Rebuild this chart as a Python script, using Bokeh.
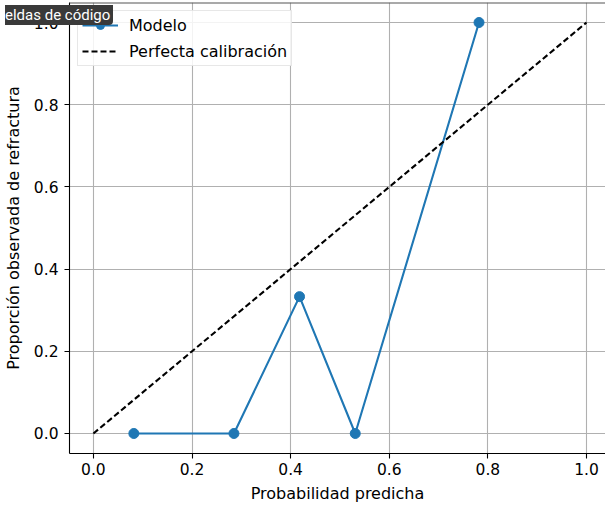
from bokeh.plotting import figure
from bokeh.models import Range1d, Span, FixedTicker, CustomJSTickFormatter, Div
from bokeh.layouts import column
from bokeh.embed import file_html
from bokeh.resources import INLINE

# Data
prob_pred = [0.082, 0.285, 0.418, 0.531, 0.782]
prob_obs = [0.0, 0.0, 0.333, 0.0, 1.0]
diag_x = [0.0, 1.0]
diag_y = [0.0, 1.0]
ticks = [0.0, 0.2, 0.4, 0.6, 0.8, 1.0]

FONT = "DejaVu Sans"

p = figure(width=605, height=506, output_backend="svg", toolbar_location=None,
           x_range=Range1d(-0.0485, 1.0385), y_range=Range1d(-0.0487, 1.0487),
           min_border_left=67, min_border_right=0, min_border_top=2,
           min_border_bottom=53)
p.outline_line_color = None
p.background_fill_color = "white"
p.border_fill_color = "white"

for g in (p.xgrid, p.ygrid):
    g.grid_line_color = "#b0b0b0"
    g.grid_line_width = 1.1
    g.ticker = FixedTicker(ticks=ticks)

fmt = CustomJSTickFormatter(code="return tick.toFixed(1);")
for ax in (p.xaxis, p.yaxis):
    ax.ticker = FixedTicker(ticks=ticks)
    ax.formatter = fmt
    ax.axis_line_color = "black"
    ax.axis_line_width = 1.1
    ax.major_tick_line_color = "black"
    ax.major_tick_line_width = 1.1
    ax.major_tick_out = 5
    ax.major_tick_in = 0
    ax.minor_tick_line_color = None
    ax.major_label_text_font = FONT
    ax.major_label_text_font_size = "15.5px"
    ax.major_label_text_color = "black"
    ax.axis_label_text_font = FONT
    ax.axis_label_text_font_size = "16px"
    ax.axis_label_text_font_style = "normal"
    ax.axis_label_text_color = "black"

p.xaxis.major_label_standoff = 4
p.yaxis.major_label_standoff = 6
p.xaxis.axis_label = "Probabilidad predicha"
p.yaxis.axis_label = "Proporción observada de refractura"
p.xaxis.axis_label_standoff = 6
p.yaxis.axis_label_standoff = 8

# top spine (partially visible)
p.add_layout(Span(location=1.0487, dimension="width", line_color="#555555",
                  line_width=2))

# model curve
p.line(prob_pred, prob_obs, line_color="#1f77b4", line_width=2.1,
       legend_label="Modelo")
p.scatter(prob_pred, prob_obs, size=10, fill_color="#1f77b4",
          line_color="#1f77b4", legend_label="Modelo")
# perfect calibration
p.line(diag_x, diag_y, line_color="black", line_width=2.1, line_dash="6 3",
       legend_label="Perfecta calibración")

lg = p.legend[0]
lg.location = "top_left"
lg.margin = 8
lg.padding = 4
lg.spacing = 6
lg.glyph_width = 36
lg.glyph_height = 20
lg.label_height = 20
lg.label_standoff = 11
lg.label_text_font = FONT
lg.label_text_font_size = "16px"
lg.label_text_color = "black"
lg.border_line_color = "#d0d0d0"
lg.border_line_width = 1
lg.background_fill_alpha = 0.85

# tooltip overlay that appears in the screenshot
tip = Div(text="eldas de código", width=108, height=20,
          styles={"position": "absolute", "top": "0px", "left": "0px",
                  "z-index": "10", "background-color": "#3a3a3a",
                  "color": "white", "font-family": "Roboto",
                  "font-size": "15px", "line-height": "18px",
                  "padding-top": "1px",
                  "border-bottom-right-radius": "4px",
                  "white-space": "nowrap", "overflow": "hidden"})

root = column(p, tip, width=605, height=506,
              styles={"position": "absolute", "top": "0px", "left": "0px"})

open("out.html", "w").write(file_html(root, INLINE))
